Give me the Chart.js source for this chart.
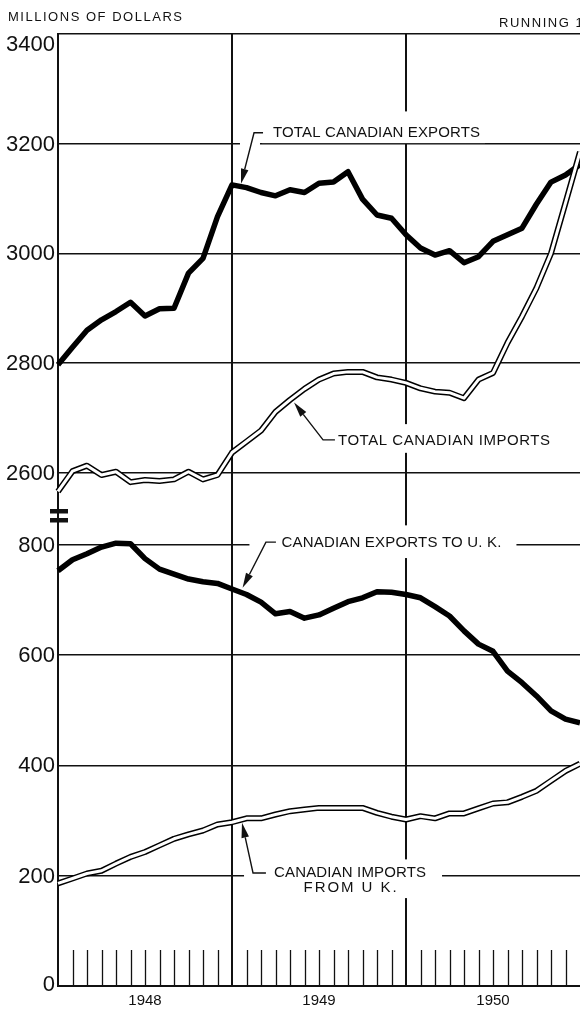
<!DOCTYPE html>
<html><head><meta charset="utf-8">
<script src="https://cdn.jsdelivr.net/npm/chart.js@4.4.1/dist/chart.umd.min.js"></script>
<style>html,body{margin:0;padding:0;background:#fff;overflow:hidden}canvas{display:block}</style>
</head><body>
<canvas id="c" width="580" height="1010"></canvas>
<script>
// ---- data ----
const months = ['Dec 1947','Jan 1948','Feb 1948','Mar 1948','Apr 1948','May 1948','Jun 1948','Jul 1948','Aug 1948','Sep 1948','Oct 1948','Nov 1948','Dec 1948',
  'Jan 1949','Feb 1949','Mar 1949','Apr 1949','May 1949','Jun 1949','Jul 1949','Aug 1949','Sep 1949','Oct 1949','Nov 1949','Dec 1949',
  'Jan 1950','Feb 1950','Mar 1950','Apr 1950','May 1950','Jun 1950','Jul 1950','Aug 1950','Sep 1950','Oct 1950','Nov 1950','Dec 1950'];
const totalExports = [2797,2829,2860,2879,2894,2911,2886,2899,2900,2964,2991,3067,3125,
  3120,3111,3105,3116,3111,3128,3130,3149,3099,3070,3064,3034,
  3010,2997,3005,2983,2994,3022,3034,3046,3090,3130,3143,3162];
const totalImports = [2566,2603,2613,2596,2602,2583,2587,2585,2588,2602,2588,2596,2637,
  2657,2677,2711,2733,2753,2770,2781,2784,2784,2774,2770,2764,
  2754,2748,2746,2736,2770,2782,2837,2885,2937,3000,3092,3185];
const exportsToUK = [753,773,784,796,803,802,775,756,747,738,733,730,720,
  710,696,675,679,667,673,685,697,704,715,714,710,
  704,688,671,644,620,607,571,550,526,499,484,477];
const importsFromUK = [186,195,204,209,222,234,243,255,267,275,282,293,297,
  304,304,311,317,320,323,323,323,323,314,307,302,
  308,304,313,313,322,331,333,343,354,372,390,403];
const upperTicks = [2600,2800,3000,3200,3400];
const lowerTicks = [0,200,400,600,800];
const upperRange = [2534,3400];
const lowerRange = [0,865];
const headerLeft = 'MILLIONS OF DOLLARS';
const headerRight = 'RUNNING 12-MONTH TOTALS';

// ---- annotations (month index / value coordinates) ----
const notes = [
  {axis:'yTop', align:'left', pad:[11,5,15,6],
   lines:[{t:'TOTAL CANADIAN EXPORTS', m:14.83, v:3212, w:207}],
   leader:[[14.14,3220],[13.52,3220],[12.62,3127]]},
  {axis:'yTop', align:'left', pad:[5,8,10,8],
   lines:[{t:'TOTAL CANADIAN IMPORTS', m:19.31, v:2651, w:212}],
   leader:[[19.1,2660],[18.28,2660],[16.28,2728]]},
  {axis:'yBot', align:'left', pad:[32,15,11,11],
   lines:[{t:'CANADIAN EXPORTS TO U. K.', m:15.41, v:796, w:220}],
   leader:[[15.03,805],[14.34,805],[12.73,722]]},
  {axis:'yBot', align:'center', pad:[30,16,7,6],
   lines:[{t:'CANADIAN IMPORTS', m:20.14, v:197.5, w:152},{t:'FROM U K.', m:20.14, v:170.3, w:93}],
   leader:[[14.34,205],[13.45,205],[12.69,296]]}
];
const gridGaps = [{axis:'yTop', v:3200, from:12.55, to:13.93}];

const FONT = '"Liberation Sans", Arial, Helvetica, sans-serif';
const CAP = 10.7;
const INK = '#111';

function isYearEdge(i){ return i > 0 && i < months.length - 1 && months[i].startsWith('Dec'); }

function fitText(ctx, text, x, y, width, size){
  ctx.font = size + 'px ' + FONT;
  ctx.letterSpacing = '0px';
  const w0 = ctx.measureText(text).width;
  const sp = text.length > 1 ? (width - w0) / (text.length - 1) : 0;
  ctx.letterSpacing = sp.toFixed(2) + 'px';
  ctx.fillText(text, x, y);
  ctx.letterSpacing = '0px';
  return sp;
}

function noteGeom(chart, n){
  const xs = chart.scales.x, ys = chart.scales[n.axis];
  const lines = n.lines.map(l => {
    const cx = xs.getPixelForValue(l.m), y = ys.getPixelForValue(l.v);
    const left = n.align === 'center' ? cx - l.w/2 : cx;
    return {t:l.t, w:l.w, left, right:left + l.w, y};
  });
  const L = Math.min(...lines.map(l => l.left)), R = Math.max(...lines.map(l => l.right));
  const T = Math.min(...lines.map(l => l.y)) - CAP, B = Math.max(...lines.map(l => l.y));
  return {lines, box:[L - n.pad[0], T - n.pad[2], R + n.pad[1], B + n.pad[3]]};
}

const decor = {
  id:'decor',
  beforeDatasetsDraw(chart){
    const ctx = chart.ctx, xs = chart.scales.x, area = chart.chartArea;
    ctx.save();
    // month tick marks along the base
    ctx.strokeStyle = INK; ctx.lineWidth = 1.3;
    months.forEach((m, i) => {
      if (i === 0 || i === months.length - 1 || isYearEdge(i)) return;
      const x = Math.round(xs.getPixelForValue(i)) + 0.5;
      ctx.beginPath(); ctx.moveTo(x, area.bottom - 36); ctx.lineTo(x, area.bottom); ctx.stroke();
    });
    // white breaks in gridlines
    ctx.fillStyle = '#fff';
    gridGaps.forEach(g => {
      const y = chart.scales[g.axis].getPixelForValue(g.v);
      const x1 = xs.getPixelForValue(g.from), x2 = xs.getPixelForValue(g.to);
      ctx.fillRect(x1, y - 3, x2 - x1, 6);
    });
    notes.forEach(n => {
      const b = noteGeom(chart, n).box;
      ctx.fillRect(b[0], b[1], b[2] - b[0], b[3] - b[1]);
    });
    ctx.restore();
  },
  afterDraw(chart){
    const ctx = chart.ctx, xs = chart.scales.x, area = chart.chartArea;
    ctx.save();
    ctx.fillStyle = INK; ctx.strokeStyle = INK;
    ctx.textBaseline = 'alphabetic'; ctx.textAlign = 'left';
    // annotations
    notes.forEach(n => {
      const g = noteGeom(chart, n);
      g.lines.forEach(l => fitText(ctx, l.t, l.left, l.y, l.w, 15));
      const ys = chart.scales[n.axis];
      const pts = n.leader.map(p => [xs.getPixelForValue(p[0]), ys.getPixelForValue(p[1])]);
      const tip = pts[pts.length - 1], prev = pts[pts.length - 2];
      const dx = tip[0] - prev[0], dy = tip[1] - prev[1], len = Math.hypot(dx, dy);
      const ux = dx/len, uy = dy/len, AL = 15, AW = 3.8;
      const bx = tip[0] - ux*AL, by = tip[1] - uy*AL;
      ctx.lineWidth = 1.4; ctx.lineJoin = 'miter';
      ctx.beginPath(); ctx.moveTo(pts[0][0], pts[0][1]);
      for (let i = 1; i < pts.length - 1; i++) ctx.lineTo(pts[i][0], pts[i][1]);
      ctx.lineTo(bx, by); ctx.stroke();
      ctx.beginPath(); ctx.moveTo(tip[0], tip[1]);
      ctx.lineTo(bx - uy*AW, by + ux*AW); ctx.lineTo(bx + uy*AW, by - ux*AW); ctx.closePath(); ctx.fill();
    });
    // y tick labels
    ctx.font = '22px ' + FONT; ctx.textAlign = 'right'; ctx.textBaseline = 'middle';
    const yt = chart.scales.yTop, yb = chart.scales.yBot;
    upperTicks.forEach(v => ctx.fillText(String(v), area.left - 3, yt.getPixelForValue(v) + (v === upperRange[1] ? 11 : 1)));
    lowerTicks.forEach(v => ctx.fillText(String(v), area.left - 3, yb.getPixelForValue(v) + (v === 0 ? -1 : 1)));
    // axis break mark
    const by0 = yt.bottom;
    ctx.fillRect(area.left - 8, by0, 18, 4.5);
    ctx.fillRect(area.left - 8, by0 + 9, 18, 4.5);
    // headers
    ctx.textAlign = 'left'; ctx.textBaseline = 'alphabetic';
    const sp = fitText(ctx, headerLeft, 8, 21, 174, 13);
    ctx.font = '13px ' + FONT; ctx.letterSpacing = sp.toFixed(2) + 'px';
    ctx.fillText(headerRight, 499, 27);
    ctx.letterSpacing = '0px';
    ctx.restore();
  }
};

const lineBase = {pointRadius:0, pointHoverRadius:0, tension:0, fill:false, borderJoinStyle:'round', borderCapStyle:'butt'};

new Chart(document.getElementById('c'), {
  type:'line',
  data:{
    labels: months,
    datasets:[
      Object.assign({label:'Total Canadian exports', data:totalExports, yAxisID:'yTop', borderColor:'#000', borderWidth:5.5, order:3}, lineBase),
      Object.assign({label:'Total Canadian imports', data:totalImports, yAxisID:'yTop', borderColor:'#000', borderWidth:6, order:2}, lineBase),
      Object.assign({label:'Total Canadian imports (inner)', data:totalImports, yAxisID:'yTop', borderColor:'#fff', borderWidth:3, order:1}, lineBase),
      Object.assign({label:'Canadian exports to U.K.', data:exportsToUK, yAxisID:'yBot', borderColor:'#000', borderWidth:5.5, order:3}, lineBase),
      Object.assign({label:'Canadian imports from U.K.', data:importsFromUK, yAxisID:'yBot', borderColor:'#000', borderWidth:6, order:2}, lineBase),
      Object.assign({label:'Canadian imports from U.K. (inner)', data:importsFromUK, yAxisID:'yBot', borderColor:'#fff', borderWidth:3, order:1}, lineBase)
    ]
  },
  options:{
    responsive:false, animation:false, devicePixelRatio:1, events:[],
    layout:{padding:{left:58, top:34, right:0, bottom:0}},
    plugins:{legend:{display:false}, tooltip:{enabled:false}},
    scales:{
      x:{type:'category', offset:false,
        grid:{drawTicks:false, color:c => isYearEdge(c.index) ? INK : 'rgba(0,0,0,0)', lineWidth:2},
        border:{display:true, color:INK, width:2},
        ticks:{autoSkip:false, maxRotation:0, minRotation:0, padding:6, color:INK, font:{family:FONT, size:15},
          callback:(v, i) => months[i].startsWith('Jun') ? months[i].slice(4) : ''},
        afterFit:s => { s.height = 24; s.paddingLeft = 0; s.paddingRight = 0; }},
      yBot:{type:'linear', position:'left', stack:'v', stackWeight:477, min:lowerRange[0], max:lowerRange[1],
        afterBuildTicks:s => { s.ticks = lowerTicks.map(v => ({value:v})); },
        ticks:{display:false}, grid:{drawTicks:false, color:INK, lineWidth:1.5},
        border:{color:INK, width:2}, afterFit:s => { s.width = 0; }},
      yTop:{type:'linear', position:'left', stack:'v', stackWeight:475, min:upperRange[0], max:upperRange[1],
        afterBuildTicks:s => { s.ticks = upperTicks.map(v => ({value:v})); },
        ticks:{display:false}, grid:{drawTicks:false, color:INK, lineWidth:1.5},
        border:{color:INK, width:2}, afterFit:s => { s.width = 0; }}
    }
  },
  plugins:[decor]
});
</script>
</body></html>
